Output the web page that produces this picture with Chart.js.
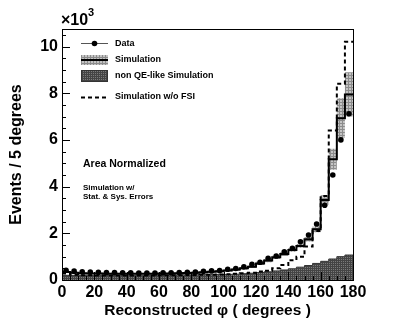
<!DOCTYPE html>
<html>
<head>
<meta charset="utf-8">
<script src="https://cdn.jsdelivr.net/npm/chart.js@4"></script>
<style>
html, body { margin: 0; padding: 0; background: #fff; }
</style>
</head>
<body>
<canvas id="phiChart" width="415" height="330"></canvas>
<script>
// bins of 5 degrees, values in units of 10^3 events
var binLow = [0, 5, 10, 15, 20, 25, 30, 35, 40, 45, 50, 55, 60, 65, 70, 75, 80, 85,
  90, 95, 100, 105, 110, 115, 120, 125, 130, 135, 140, 145, 150, 155, 160, 165, 170, 175];
var binWidth = 5;

var dataVals = [0.42, 0.38, 0.35, 0.34, 0.33, 0.32, 0.32, 0.31, 0.31, 0.30, 0.30, 0.30,
  0.31, 0.31, 0.32, 0.33, 0.34, 0.37, 0.39, 0.40, 0.46, 0.49, 0.57, 0.67, 0.76, 0.93,
  1.03, 1.21, 1.36, 1.64, 1.93, 2.40, 3.20, 4.50, 6.00, 7.12];
var simVals = [0.34, 0.31, 0.29, 0.28, 0.28, 0.27, 0.27, 0.27, 0.27, 0.27, 0.27, 0.27,
  0.28, 0.28, 0.29, 0.30, 0.31, 0.33, 0.35, 0.37, 0.41, 0.45, 0.50, 0.57, 0.71, 0.83,
  0.97, 1.11, 1.29, 1.46, 1.74, 2.17, 3.43, 5.17, 6.93, 7.95];
var simErr = [0.04, 0.04, 0.04, 0.04, 0.04, 0.04, 0.04, 0.04, 0.04, 0.04, 0.04, 0.04,
  0.04, 0.04, 0.04, 0.04, 0.04, 0.05, 0.05, 0.05, 0.05, 0.06, 0.06, 0.06, 0.07, 0.07,
  0.07, 0.08, 0.08, 0.08, 0.09, 0.12, 0.20, 0.45, 0.85, 0.95];
var noFsiVals = [0.28, 0.22, 0.20, 0.20, 0.19, 0.19, 0.19, 0.19, 0.19, 0.19, 0.19, 0.19,
  0.20, 0.20, 0.20, 0.21, 0.21, 0.22, 0.23, 0.24, 0.25, 0.27, 0.29, 0.31, 0.36, 0.40,
  0.50, 0.64, 0.85, 1.00, 1.43, 2.10, 3.60, 6.40, 8.40, 10.20];
var nonQeVals = [0.20, 0.20, 0.20, 0.20, 0.20, 0.20, 0.20, 0.20, 0.20, 0.20, 0.20, 0.21,
  0.21, 0.21, 0.22, 0.22, 0.22, 0.23, 0.23, 0.24, 0.24, 0.25, 0.27, 0.29, 0.32, 0.35,
  0.39, 0.43, 0.48, 0.55, 0.62, 0.71, 0.80, 0.90, 1.00, 1.07];

var xTicks = [0, 20, 40, 60, 80, 100, 120, 140, 160, 180];
var yTicks = [0, 2, 4, 6, 8, 10];

var FONT = "'Liberation Sans', Arial, sans-serif";

var ctx = document.getElementById("phiChart").getContext("2d");

function makePattern(base, dot, size) {
  var c = document.createElement("canvas");
  c.width = size;
  c.height = size;
  var g = c.getContext("2d");
  g.fillStyle = base;
  g.fillRect(0, 0, size, size);
  g.fillStyle = dot;
  g.fillRect(0, 0, size, 1);
  g.fillRect(0, 0, 1, size);
  return ctx.createPattern(c, "repeat");
}
var lightFill = makePattern("#c4c4c4", "#8c8c8c", 3);
var darkFill = makePattern("#7a7a7a", "#444444", 2);

// histogram outline: one point per lower edge, plus the last upper edge
function steps(vals) {
  var pts = binLow.map(function (x, i) { return { x: x, y: vals[i] }; });
  pts.push({ x: binLow[binLow.length - 1] + binWidth, y: vals[vals.length - 1] });
  return pts;
}
var simLow = simVals.map(function (v, i) { return Math.max(0, v - simErr[i]); });
var simHigh = simVals.map(function (v, i) { return v + simErr[i]; });
var dataPts = binLow.map(function (x, i) { return { x: x + binWidth / 2, y: dataVals[i] }; });

var rootStyle = {
  id: "rootStyle",
  afterDatasetsDraw: function (chart) {
    var c = chart.ctx, a = chart.chartArea, xs = chart.scales.x, ys = chart.scales.y;
    c.save();
    c.strokeStyle = "#000";
    c.lineWidth = 1;
    c.beginPath();
    for (var v = 0; v <= 180; v += 5) {
      var px = Math.round(xs.getPixelForValue(v)) + 0.5;
      var len = v % 20 === 0 ? 8 : 4;
      c.moveTo(px, a.bottom);
      c.lineTo(px, a.bottom - len);
    }
    for (var w = 0; w <= ys.max; w += 0.5) {
      var py = Math.round(ys.getPixelForValue(w)) + 0.5;
      var l2 = w % 2 === 0 ? 8 : 4;
      c.moveTo(a.left, py);
      c.lineTo(a.left + l2, py);
    }
    c.stroke();
    c.strokeRect(Math.round(a.left) + 0.5, Math.round(a.top) + 0.5,
      Math.round(a.right - a.left), Math.round(a.bottom - a.top));
    c.restore();
  },
  afterDraw: function (chart) {
    var c = chart.ctx;
    c.save();
    // exponent
    c.fillStyle = "#000";
    c.textBaseline = "alphabetic";
    c.textAlign = "left";
    c.font = "bold 16px " + FONT;
    c.fillText("\u00d710", 61, 25);
    c.font = "bold 11px " + FONT;
    c.fillText("3", 88, 16);

    // legend
    var x0 = 81, x1 = 108;
    c.strokeStyle = "#555";
    c.lineWidth = 1;
    c.beginPath();
    c.moveTo(x0, 43.5);
    c.lineTo(x1, 43.5);
    c.stroke();
    c.fillStyle = "#000";
    c.beginPath();
    c.arc((x0 + x1) / 2, 43.5, 2.8, 0, Math.PI * 2);
    c.fill();

    c.fillStyle = lightFill;
    c.fillRect(x0, 55, x1 - x0, 10);
    c.strokeStyle = "#000";
    c.lineWidth = 2;
    c.beginPath();
    c.moveTo(x0, 60);
    c.lineTo(x1, 60);
    c.stroke();

    c.fillStyle = darkFill;
    c.fillRect(x0, 70, x1 - x0, 12);
    c.lineWidth = 1;
    c.strokeStyle = "#333";
    c.strokeRect(x0 + 0.5, 70.5, x1 - x0 - 1, 11);

    c.strokeStyle = "#000";
    c.lineWidth = 2;
    c.setLineDash([4, 3]);
    c.beginPath();
    c.moveTo(x0, 97.5);
    c.lineTo(x1, 97.5);
    c.stroke();
    c.setLineDash([]);

    c.fillStyle = "#000";
    c.textBaseline = "middle";
    c.font = "bold 9px " + FONT;
    c.fillText("Data", 115, 44);
    c.fillText("Simulation", 115, 60);
    c.fillText("non QE-like Simulation", 115, 76);
    c.fillText("Simulation w/o FSI", 115, 97);

    c.font = "bold 10.5px " + FONT;
    c.fillText("Area Normalized", 83, 164);
    c.font = "bold 8px " + FONT;
    c.fillText("Simulation w/", 83, 188);
    c.fillText("Stat. & Sys. Errors", 83, 197);
    c.restore();
  }
};

var MyChart = new Chart(ctx, {
  type: "line",
  data: {
    datasets: [
      {
        label: "Data",
        data: dataPts,
        showLine: false,
        pointRadius: 2.8,
        pointBackgroundColor: "#000",
        pointBorderWidth: 0,
        order: 0,
      },
      {
        label: "Simulation",
        data: steps(simVals),
        stepped: true,
        borderColor: "#000",
        borderWidth: 2,
        pointRadius: 0,
        fill: false,
        order: 1,
      },
      {
        label: "Simulation w/o FSI",
        data: steps(noFsiVals),
        stepped: true,
        borderColor: "#000",
        borderWidth: 2,
        borderDash: [4, 3],
        pointRadius: 0,
        fill: false,
        order: 2,
      },
      {
        label: "sim low",
        data: steps(simLow),
        stepped: true,
        borderWidth: 0,
        borderColor: "rgba(0,0,0,0)",
        pointRadius: 0,
        fill: false,
        order: 3,
      },
      {
        label: "sim high",
        data: steps(simHigh),
        stepped: true,
        borderWidth: 0,
        borderColor: "rgba(0,0,0,0)",
        backgroundColor: lightFill,
        pointRadius: 0,
        fill: "-1",
        order: 3,
      },
      {
        label: "non QE-like Simulation",
        data: steps(nonQeVals),
        stepped: true,
        borderColor: "#333",
        borderWidth: 1,
        backgroundColor: darkFill,
        pointRadius: 0,
        fill: "origin",
        order: 4,
      },
    ],
  },
  options: {
    responsive: false,
    animation: false,
    layout: { padding: { top: 29, right: 62, bottom: 0, left: 0 } },
    plugins: {
      legend: { display: false },
      tooltip: { enabled: false },
    },
    scales: {
      x: {
        type: "linear",
        min: 0,
        max: 180,
        afterFit: function (s) { s.height = 50; },
        afterBuildTicks: function (s) { s.ticks = xTicks.map(function (v) { return { value: v }; }); },
        grid: { display: false, drawTicks: false },
        border: { display: false },
        ticks: {
          padding: 3,
          maxRotation: 0,
          autoSkip: false,
          color: "#000",
          font: { family: FONT, size: 16, weight: "bold" },
        },
        title: {
          display: true,
          text: "Reconstructed \u03c6 ( degrees )",
          color: "#000",
          font: { family: FONT, size: 15.5, weight: "bold" },
          padding: { top: 0, bottom: 10 },
        },
      },
      y: {
        type: "linear",
        min: 0,
        max: 10.75,
        afterFit: function (s) { s.width = 62; },
        afterBuildTicks: function (s) { s.ticks = yTicks.map(function (v) { return { value: v }; }); },
        grid: { display: false, drawTicks: false },
        border: { display: false },
        ticks: {
          padding: 4,
          color: "#000",
          font: { family: FONT, size: 16, weight: "bold" },
        },
        title: {
          display: true,
          text: "Events / 5 degrees",
          color: "#000",
          font: { family: FONT, size: 16, weight: "bold" },
          padding: { top: 7, bottom: 0 },
        },
      },
    },
  },
  plugins: [rootStyle],
});
</script>
</body>
</html>
